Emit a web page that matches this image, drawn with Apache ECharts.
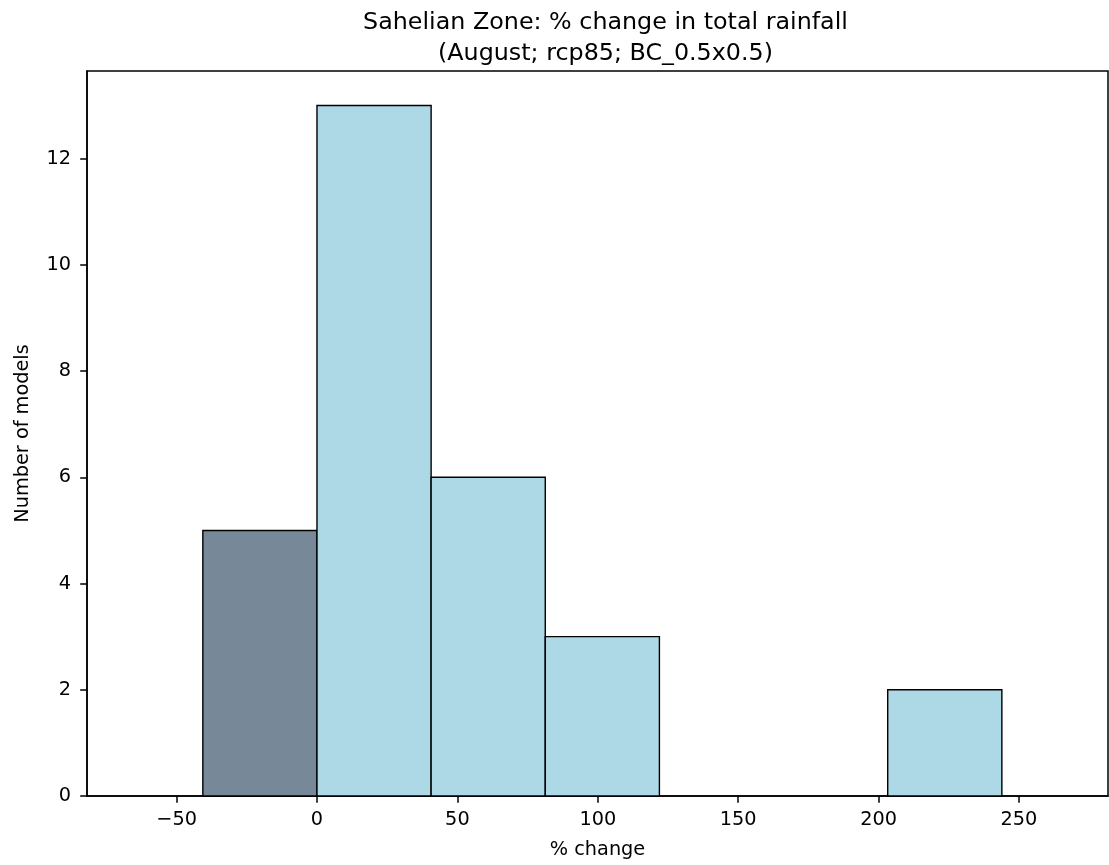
<!DOCTYPE html>
<html>
<head>
<meta charset="utf-8">
<script src="https://cdn.jsdelivr.net/npm/echarts@6/dist/echarts.min.js"></script>
<style>
html,body{margin:0;padding:0;background:#fff;}
#chart{width:1109px;height:865px;}
</style>
</head>
<body>
<div id="chart"></div>
<script>
// Histogram bins (% change) and counts (number of models)
const binStarts = [-40.65, 0, 40.65, 81.3, 121.95, 162.6, 203.25];
const binEnds   = [0, 40.65, 81.3, 121.95, 162.6, 203.25, 243.9];
const counts    = [5, 13, 6, 3, 0, 0, 2];
const xTicks = [-50, 0, 50, 100, 150, 200, 250];
const yTicks = [0, 2, 4, 6, 8, 10, 12];
const titleText = 'Sahelian Zone: % change in total rainfall\n(August; rcp85; BC_0.5x0.5)';

const data = binStarts.map((s, i) => [s, binEnds[i], counts[i]]);
const FONT = 'DejaVu Sans';
const FS = 19.3;

const chart = echarts.init(document.getElementById('chart'), null, {renderer: 'canvas'});
chart.setOption({
  animation: false,
  backgroundColor: '#fff',
  title: {
    text: titleText,
    left: 600.5,
    textAlign: 'center',
    top: 3,
    textStyle: {fontFamily: FONT, fontSize: 23.8, fontWeight: 'normal', color: '#000', lineHeight: 30.5}
  },
  grid: {left: 87, right: 1, top: 71, bottom: 69, show: true, borderColor: '#000', borderWidth: 1.5, backgroundColor: 'transparent'},
  xAxis: {
    type: 'value', min: -81.9, max: 281.7,
    name: '% change', nameLocation: 'middle', nameGap: 44,
    nameTextStyle: {fontFamily: FONT, fontSize: FS, color: '#000'},
    axisLine: {show: true, onZero: false, lineStyle: {color: '#000', width: 1.5}},
    axisTick: {show: true, length: 6.8, lineStyle: {color: '#000', width: 1.5}, customValues: xTicks},
    axisLabel: {fontFamily: FONT, fontSize: FS, color: '#000', margin: 14.5, customValues: xTicks,
      formatter: v => (v < 0 ? '\u2212' + Math.abs(v) : String(v))},
    splitLine: {show: false}
  },
  yAxis: {
    type: 'value', min: 0, max: 13.65,
    name: 'Number of models', nameLocation: 'middle', nameGap: 55, nameRotate: 90,
    nameTextStyle: {fontFamily: FONT, fontSize: FS, color: '#000'},
    axisLine: {show: true, onZero: false, lineStyle: {color: '#000', width: 1.5}},
    axisTick: {show: true, length: 6.8, lineStyle: {color: '#000', width: 1.5}, customValues: yTicks},
    axisLabel: {fontFamily: FONT, fontSize: FS, color: '#000', margin: 16, customValues: yTicks},
    splitLine: {show: false}
  },
  series: [{
    type: 'custom',
    data: data,
    encode: {x: [0, 1], y: 2},
    renderItem: function (params, api) {
      const x0 = api.value(0), x1 = api.value(1), c = api.value(2);
      if (c <= 0) return null;
      const p0 = api.coord([x0, c]);
      const p1 = api.coord([x1, 0]);
      return {
        type: 'rect',
        shape: {x: p0[0], y: p0[1], width: p1[0] - p0[0], height: p1[1] - p0[1]},
        style: {fill: x1 <= 0 ? '#778899' : '#ADD8E6', stroke: '#000', lineWidth: 1.4}
      };
    }
  }]
});
</script>
</body>
</html>
